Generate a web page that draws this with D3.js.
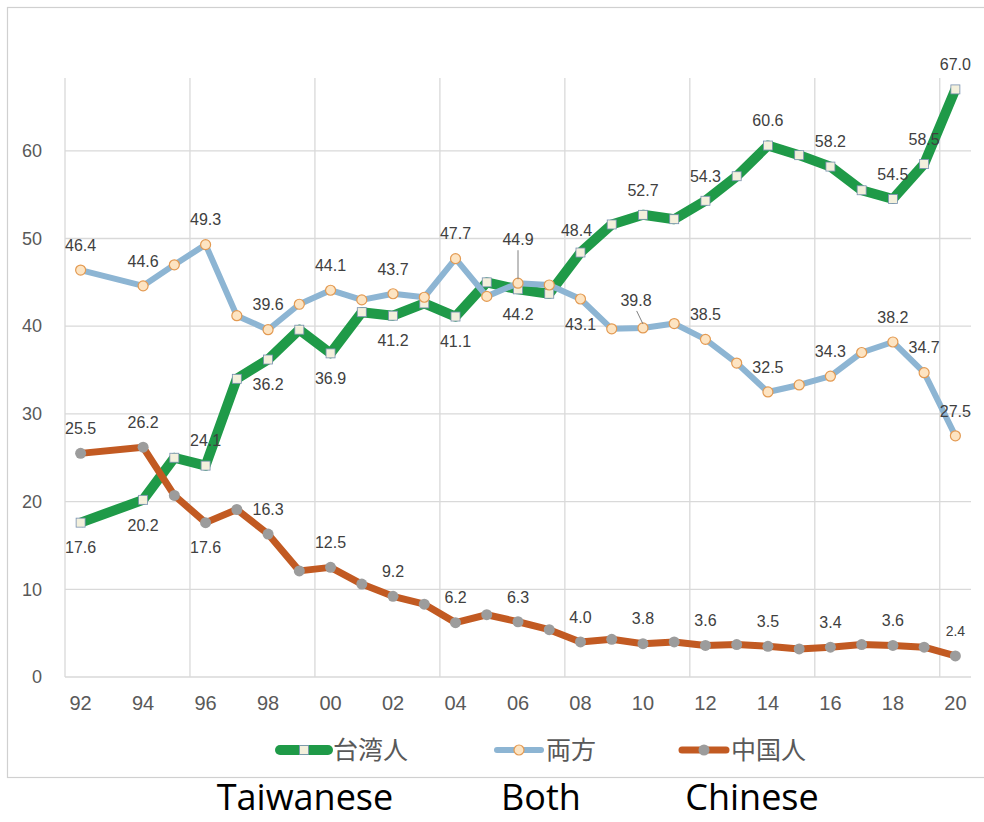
<!DOCTYPE html>
<html>
<head>
<meta charset="utf-8">
<script src="https://cdn.jsdelivr.net/npm/d3@7"></script>
<style>
  body { margin: 0; background: #fff; }
  svg { display: block; }
</style>
</head>
<body>
<script>
// survey years (1993 has no survey, the line just bridges it)
var years = [1992, 1994, 1995, 1996, 1997, 1998, 1999, 2000, 2001, 2002, 2003, 2004, 2005, 2006,
  2007, 2008, 2009, 2010, 2011, 2012, 2013, 2014, 2015, 2016, 2017, 2018, 2019, 2020];

var taiwanese = [17.6, 20.2, 25.0, 24.1, 34.0, 36.2, 39.6, 36.9, 41.6, 41.2, 42.6, 41.1, 45.0, 44.2,
  43.7, 48.4, 51.6, 52.7, 52.2, 54.3, 57.1, 60.6, 59.5, 58.2, 55.5, 54.5, 58.5, 67.0];
var both = [46.4, 44.6, 47.0, 49.3, 41.2, 39.6, 42.5, 44.1, 43.0, 43.7, 43.3, 47.7, 43.4, 44.9,
  44.7, 43.1, 39.7, 39.8, 40.3, 38.5, 35.8, 32.5, 33.3, 34.3, 37.0, 38.2, 34.7, 27.5];
var chinese = [25.5, 26.2, 20.7, 17.6, 19.1, 16.3, 12.1, 12.5, 10.6, 9.2, 8.3, 6.2, 7.1, 6.3,
  5.4, 4.0, 4.3, 3.8, 4.0, 3.6, 3.7, 3.5, 3.2, 3.4, 3.7, 3.6, 3.4, 2.4];

var seriesNames = ['台湾人', '両方', '中国人'];
var bottomNames = ['Taiwanese', 'Both', 'Chinese'];
var yTicks = [0, 10, 20, 30, 40, 50, 60];

// which points get a value label, and which of those sit under the point
var taiwaneseLabelYears = [1992, 1994, 1996, 1998, 2000, 2002, 2004, 2006, 2008, 2010, 2012, 2014, 2016, 2018, 2019, 2020];
var taiwaneseBelow = [1992, 1994, 1998, 2000, 2002, 2004, 2006];
var bothLabelYears = [1992, 1994, 1996, 1998, 2000, 2002, 2004, 2006, 2008, 2010, 2012, 2014, 2016, 2018, 2019, 2020];
var bothBelow = [2008];
var chineseLabelYears = [1992, 1994, 1996, 1998, 2000, 2002, 2004, 2006, 2008, 2010, 2012, 2014, 2016, 2018, 2020];
var chineseBelow = [1996];

var width = 984, height = 822;

var svg = d3.select('body').append('svg')
  .attr('width', width)
  .attr('height', height);

// chart frame
svg.append('rect')
  .attr('x', 7.5).attr('y', 7.5)
  .attr('width', 990).attr('height', 770)
  .attr('fill', 'none')
  .attr('stroke', '#d0d0d0')
  .attr('stroke-width', 1.2);

// category axis: every year 1992..2020 is a slot
var allYears = d3.range(1992, 2021);
var x = d3.scaleBand().domain(allYears).range([65, 971]).padding(0);
var cx = function(yr) { return x(yr) + x.bandwidth() / 2; };

var y = d3.scaleLinear().domain([0, 68.3]).range([677, 78]);

// gridlines
var grid = svg.append('g').attr('stroke', '#d9d9d9').attr('stroke-width', 1.3);
grid.selectAll('line.h')
  .data(yTicks)
  .enter().append('line')
  .attr('x1', 65).attr('x2', 971)
  .attr('y1', function(d) { return y(d); })
  .attr('y2', function(d) { return y(d); });
grid.selectAll('line.v')
  .data(allYears.filter(function(d) { return (d - 1992) % 4 === 0; }))
  .enter().append('line')
  .attr('x1', function(d) { return x(d); })
  .attr('x2', function(d) { return x(d); })
  .attr('y1', y(0)).attr('y2', 78);

// y axis labels
var yAxis = d3.axisLeft(y).tickValues(yTicks).tickSize(0).tickPadding(0);
svg.append('g')
  .attr('transform', 'translate(42,0)')
  .call(yAxis)
  .call(function(g) { g.select('.domain').remove(); })
  .selectAll('text')
  .attr('font-family', 'Liberation Sans, Arial, sans-serif')
  .attr('font-size', 18)
  .attr('fill', '#595959');

// x axis labels (every second year)
var xAxis = d3.axisBottom(x)
  .tickValues(allYears.filter(function(d) { return d % 2 === 0; }))
  .tickFormat(function(d) { return d3.format('02d')(d % 100); })
  .tickSize(0).tickPadding(0);
svg.append('g')
  .attr('transform', 'translate(0,' + 696 + ')')
  .call(xAxis)
  .call(function(g) { g.select('.domain').remove(); })
  .selectAll('text')
  .attr('font-family', 'Liberation Sans, Arial, sans-serif')
  .attr('font-size', 20)
  .attr('fill', '#595959');

var series = [
  { name: seriesNames[0], values: taiwanese, color: '#1f9a48', width: 10, marker: 'square',
    mFill: '#f3f0dc', mStroke: '#7890b0', labels: taiwaneseLabelYears, below: taiwaneseBelow },
  { name: seriesNames[1], values: both, color: '#8db5d3', width: 6, marker: 'circle',
    mFill: '#fde4c2', mStroke: '#e39a52', labels: bothLabelYears, below: bothBelow },
  { name: seriesNames[2], values: chinese, color: '#c25a22', width: 7, marker: 'gray',
    mFill: '#9c9c9c', mStroke: 'none', labels: chineseLabelYears, below: chineseBelow }
];

var line = d3.line()
  .x(function(d) { return cx(d.year); })
  .y(function(d) { return y(d.value); })
  .curve(d3.curveLinear);

function drawMarker(g, s, px, py) {
  if (s.marker === 'square') {
    g.append('rect')
      .attr('x', px - 4.5).attr('y', py - 4.5)
      .attr('width', 9).attr('height', 9)
      .attr('fill', s.mFill).attr('stroke', s.mStroke).attr('stroke-width', 0.8);
  } else {
    g.append('circle')
      .attr('cx', px).attr('cy', py).attr('r', s.marker === 'gray' ? 5.5 : 5)
      .attr('fill', s.mFill).attr('stroke', s.mStroke).attr('stroke-width', 1.2);
  }
}

var plot = svg.append('g');
series.forEach(function(s) {
  var pts = years.map(function(yr, i) { return { year: yr, value: s.values[i] }; });
  var g = plot.append('g');
  g.append('path')
    .datum(pts)
    .attr('d', line)
    .attr('fill', 'none')
    .attr('stroke', s.color)
    .attr('stroke-width', s.width)
    .attr('stroke-linejoin', 'round');
  pts.forEach(function(p) { drawMarker(g, s, cx(p.year), y(p.value)); });
});

// value labels
var labels = svg.append('g')
  .attr('font-family', 'Liberation Sans, Arial, sans-serif')
  .attr('font-size', 16)
  .attr('fill', '#404040')
  .attr('text-anchor', 'middle');

series.forEach(function(s) {
  years.forEach(function(yr, i) {
    if (s.labels.indexOf(yr) < 0) return;
    var px = cx(yr), py = y(s.values[i]);
    var dx = 0, dy = s.below.indexOf(yr) >= 0 ? 25 : -25;
    var leader = false;
    if (s.name === '両方' && yr === 2006) { dy = -44; leader = true; }
    if (s.name === '両方' && yr === 2010) { dx = -7; dy = -28; leader = true; }
    if (s.name === '台湾人' && yr === 2008) { dx = -4; dy = -22; }
    if (leader) {
      labels.append('line')
        .attr('x1', px + dx * 0.9).attr('y1', py + dy + 11)
        .attr('x2', px).attr('y2', py - 4)
        .attr('stroke', '#808080').attr('stroke-width', 1);
    }
    labels.append('text')
      .attr('x', px + dx).attr('y', py + dy)
      .attr('dy', '0.36em')
      .attr('font-size', (s.name === '中国人' && yr === 2020) ? 14 : null)
      .text(d3.format('.1f')(s.values[i]));
  });
});

// legend
var legendX = [280, 497, 682];
var legend = svg.append('g');
series.forEach(function(s, i) {
  var lx = legendX[i], ly = 750;
  var len = i === 0 ? 48 : 44;
  legend.append('line')
    .attr('x1', lx).attr('x2', lx + len)
    .attr('y1', ly).attr('y2', ly)
    .attr('stroke', s.color)
    .attr('stroke-width', s.width)
    .attr('stroke-linecap', 'round');
  drawMarker(legend, s, lx + len / 2, ly);
  legend.append('text')
    .attr('x', lx + len + 5).attr('y', ly)
    .attr('dy', '0.36em')
    .attr('font-family', 'Noto Sans CJK JP, sans-serif')
    .attr('font-size', 25)
    .attr('fill', '#595959')
    .text(s.name);
});

// english names under the frame
var bottomX = [305, 541, 752];
svg.append('g')
  .selectAll('text')
  .data(bottomNames)
  .enter().append('text')
  .attr('x', function(d, i) { return bottomX[i]; })
  .attr('y', 810)
  .attr('text-anchor', 'middle')
  .attr('font-family', 'Open Sans, sans-serif')
  .attr('font-size', 36)
  .attr('fill', '#000')
  .text(function(d) { return d; });
</script>
</body>
</html>
